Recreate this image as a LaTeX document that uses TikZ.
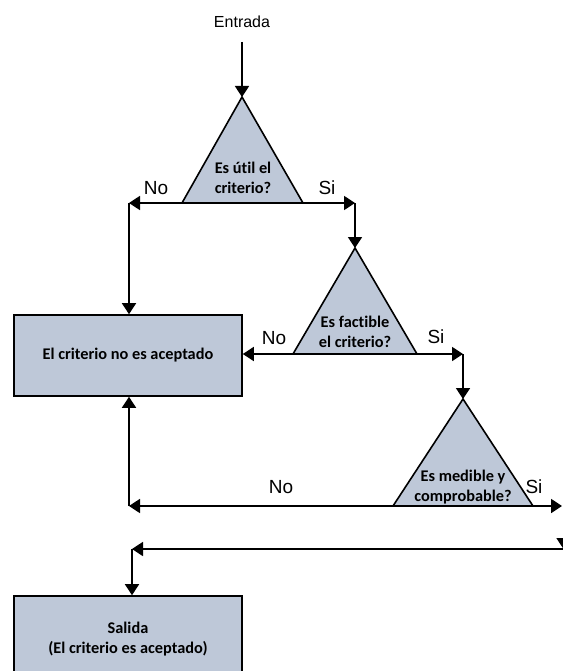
\documentclass[tikz,border=0pt]{standalone}
\usepackage{fontspec}
\setmainfont{Liberation Sans}
\newfontfamily\calib[Ligatures=NoCommon]{Carlito}
\usetikzlibrary{arrows.meta}
\definecolor{boxfill}{RGB}{190,200,216}
\begin{document}
\begin{tikzpicture}[x=1pt,y=-1pt,
 conn/.style={line width=1.8pt,-{Triangle[width=14pt,length=11pt]}},
 shp/.style={draw,line width=1.6pt,fill=boxfill},
 lbl/.style={font=\fontsize{19}{19}\selectfont,inner sep=0pt},
 inner/.style={font=\calib\bfseries\fontsize{16.3}{20.5}\selectfont,align=center,inner sep=0pt}]
\useasboundingbox (0,0) rectangle (562,671);
% nodes
\node[font=\fontsize{16}{16}\selectfont,inner sep=0pt] (entrada) at (242,22) {Entrada};
\coordinate (e0) at (242,42);
\coordinate (t1a) at (242,97);
\coordinate (t1l) at (182,203);
\coordinate (t1r) at (303,203);
\coordinate (t2a) at (355,248);
\coordinate (t2l) at (293,354);
\coordinate (t2r) at (417,354);
\coordinate (t3a) at (463,399);
\coordinate (t3l) at (393,506);
\coordinate (t3r) at (533,506);
\coordinate (n1) at (129,203);
\coordinate (s1) at (355,203);
\coordinate (s2) at (463,354);
\coordinate (n3) at (129,506);
\coordinate (s3) at (562,506);
\coordinate (r3) at (563.5,506);
\coordinate (r4) at (563.5,549);
\coordinate (n4) at (132,549);
\draw[shp] (t1a) -- (t1r) -- (t1l) -- cycle;
\draw[shp] (t2a) -- (t2r) -- (t2l) -- cycle;
\draw[shp] (t3a) -- (t3r) -- (t3l) -- cycle;
\node[inner] (q1) at (243,178) {Es útil el\\criterio?};
\node[inner] (q2) at (355,332) {Es factible\\el criterio?};
\node[inner] (q3) at (463,487) {Es medible y\\comprobable?};
\node[shp,inner,minimum width=228pt,minimum height=81pt] (rej) at (128,355.5) {El criterio no es aceptado};
\node[shp,inner,minimum width=228pt,minimum height=86pt] (out) at (128,639) {Salida\\(El criterio es aceptado)};
\node[lbl] (no1) at (156,188) {No};
\node[lbl] (si1) at (327,188) {Si};
\node[lbl] (no2) at (274,338) {No};
\node[lbl] (si2) at (436,337) {Si};
\node[lbl] (no3) at (281,487) {No};
\node[lbl] (si3) at (534,487) {Si};
% connectors
\draw[conn] (e0) -- (t1a);
\draw[conn] (t1l) -- (n1);
\draw[conn] (n1) -- (n1 |- rej.north);
\draw[conn] (t1r) -- (s1);
\draw[conn] (s1) -- (t2a);
\draw[conn] (t2l) -- (t2l -| rej.east);
\draw[conn] (t2r) -- (s2);
\draw[conn] (s2) -- (t3a);
\draw[conn] (t3l) -- (n3);
\draw[conn] (n3) -- (n3 |- rej.south);
\draw[conn] (t3r) -- (s3);
\draw[conn] (r3) -- (r4);
\draw[conn] (r4) -- (n4);
\draw[conn] (n4) -- (n4 |- out.north);
\end{tikzpicture}
\end{document}
